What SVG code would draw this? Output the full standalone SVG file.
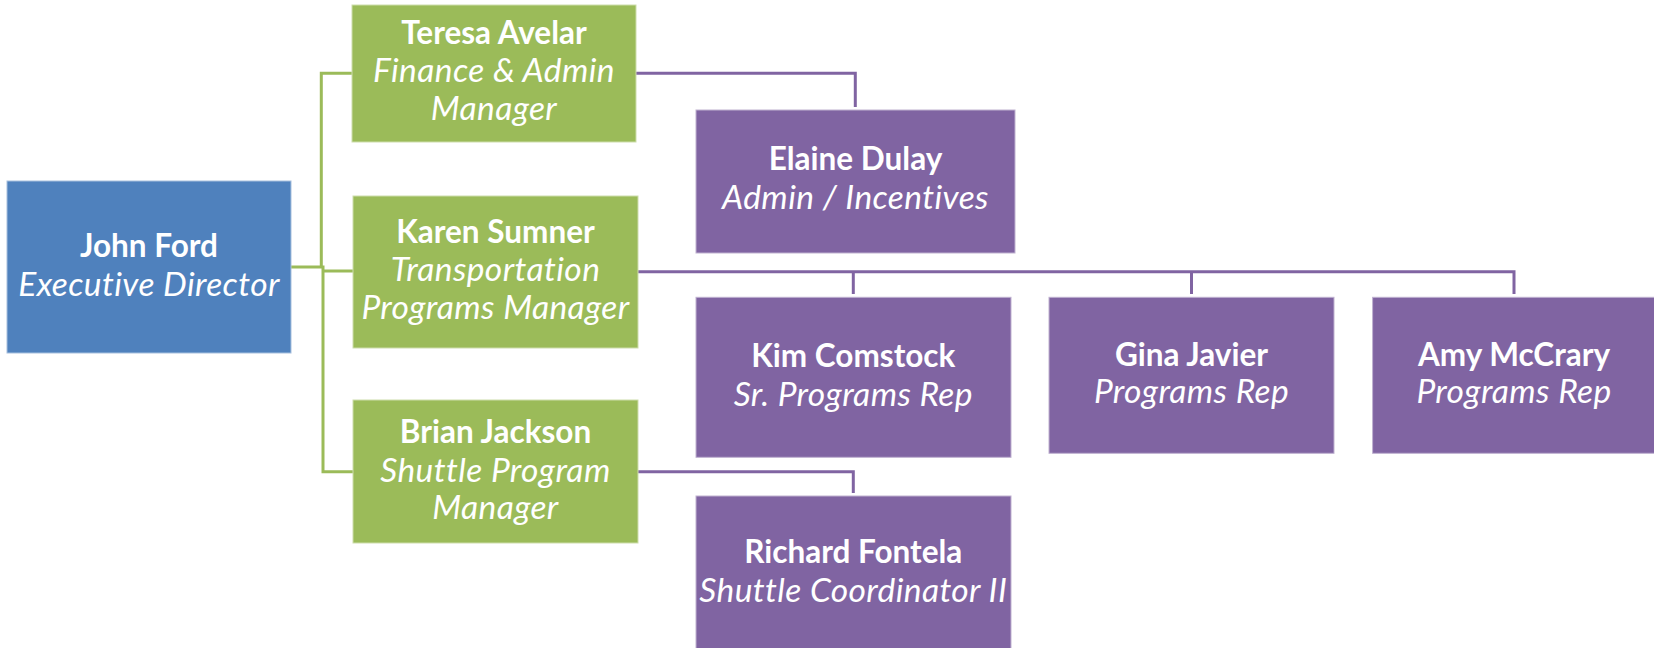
<svg xmlns="http://www.w3.org/2000/svg" width="1654" height="648" viewBox="0 0 1654 648">
<style>
.blue{fill:#4F81BD;stroke:#A7C0DE;stroke-width:1}
.green{fill:#9BBB59;stroke:#CDDDAC;stroke-width:1}
.purple{fill:#8064A2;stroke:#BFB1D0;stroke-width:1}
text{font-family:Lato,"Open Sans","Liberation Sans",sans-serif;fill:#fff;text-anchor:middle}
.n{font-weight:bold;font-size:31.5px}
.t{font-style:italic;font-size:33.5px;letter-spacing:0.4px}
.gl{fill:none;stroke:#9BBB59;stroke-width:3}
.pl{fill:none;stroke:#8064A2;stroke-width:3}
</style>
<rect width="1654" height="648" fill="#fff"/>
<g id="connectors">
<path class="gl" d="M352 73.3H321.3V267"/>
<path class="gl" d="M291 267H323V471.7H353"/>
<path class="gl" d="M323 271H353"/>
<path class="pl" d="M636 73.3H855.3V107"/>
<path class="pl" d="M638 271.7H1514V294"/>
<path class="pl" d="M853.3 271.7V294"/>
<path class="pl" d="M1191.5 271.7V294"/>
<path class="pl" d="M638 471.7H853.3V493"/>
</g>
<g id="john">
<rect class="blue" x="7" y="181" width="284" height="172"/>
<text class="n" x="149" y="257">John Ford</text>
<text class="t" x="149" y="296">Executive Director</text>
</g>
<g id="teresa">
<rect class="green" x="352" y="5" width="284" height="137"/>
<text class="n" x="494" y="44">Teresa Avelar</text>
<text class="t" x="494" y="82">Finance &amp; Admin</text>
<text class="t" x="494" y="120">Manager</text>
</g>
<g id="karen">
<rect class="green" x="353" y="196" width="285" height="152"/>
<text class="n" x="495.5" y="243">Karen Sumner</text>
<text class="t" x="495.5" y="281">Transportation</text>
<text class="t" x="495.5" y="319">Programs Manager</text>
</g>
<g id="brian">
<rect class="green" x="353" y="400" width="285" height="143"/>
<text class="n" x="495.5" y="443">Brian Jackson</text>
<text class="t" x="495.5" y="482">Shuttle Program</text>
<text class="t" x="495.5" y="519">Manager</text>
</g>
<g id="elaine">
<rect class="purple" x="696" y="110" width="319" height="143"/>
<text class="n" x="855.5" y="169.5">Elaine Dulay</text>
<text class="t" x="855.5" y="208.5">Admin / Incentives</text>
</g>
<g id="kim">
<rect class="purple" x="696" y="297.3" width="315" height="160"/>
<text class="n" x="853.3" y="367">Kim Comstock</text>
<text class="t" x="853.3" y="406">Sr. Programs Rep</text>
</g>
<g id="gina">
<rect class="purple" x="1049" y="297.3" width="285" height="156"/>
<text class="n" x="1191.5" y="366">Gina Javier</text>
<text class="t" x="1191.5" y="403">Programs Rep</text>
</g>
<g id="amy">
<rect class="purple" x="1372.6" y="297.3" width="290" height="156"/>
<text class="n" x="1514" y="366">Amy McCrary</text>
<text class="t" x="1514" y="403">Programs Rep</text>
</g>
<g id="richard">
<rect class="purple" x="696" y="496" width="315" height="160"/>
<text class="n" x="853.3" y="563">Richard Fontela</text>
<text class="t" x="853.3" y="602">Shuttle Coordinator II</text>
</g>
</svg>
